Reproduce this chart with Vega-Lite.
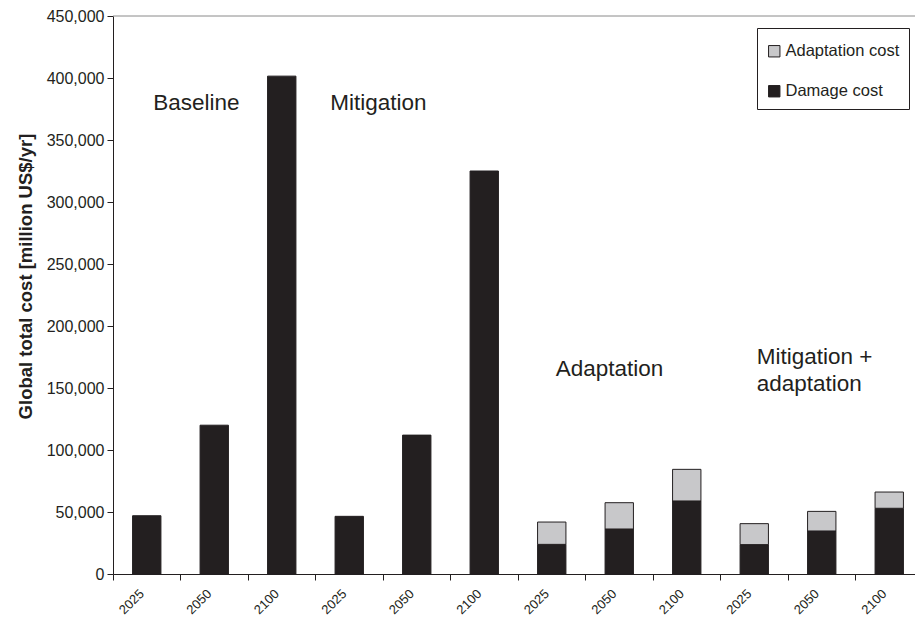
{
  "$schema": "https://vega.github.io/schema/vega-lite/v6.json",
  "width": 802,
  "height": 558,
  "autosize": {"type": "none"},
  "padding": {"left": 113, "top": 16, "right": 0, "bottom": 47},
  "background": "white",
  "config": {"view": {"stroke": null}, "font": "Liberation Sans"},
  "datasets": {
    "bars": [
      {"cat": "Baseline|2025", "cost": "Damage cost", "ord": 1, "value": 47000},
      {"cat": "Baseline|2050", "cost": "Damage cost", "ord": 1, "value": 120000},
      {"cat": "Baseline|2100", "cost": "Damage cost", "ord": 1, "value": 401500},
      {"cat": "Mitigation|2025", "cost": "Damage cost", "ord": 1, "value": 46500},
      {"cat": "Mitigation|2050", "cost": "Damage cost", "ord": 1, "value": 112000},
      {"cat": "Mitigation|2100", "cost": "Damage cost", "ord": 1, "value": 325000},
      {"cat": "Adaptation|2025", "cost": "Damage cost", "ord": 1, "value": 23900},
      {"cat": "Adaptation|2025", "cost": "Adaptation cost", "ord": 2, "value": 18000},
      {"cat": "Adaptation|2050", "cost": "Damage cost", "ord": 1, "value": 36300},
      {"cat": "Adaptation|2050", "cost": "Adaptation cost", "ord": 2, "value": 21200},
      {"cat": "Adaptation|2100", "cost": "Damage cost", "ord": 1, "value": 58900},
      {"cat": "Adaptation|2100", "cost": "Adaptation cost", "ord": 2, "value": 25500},
      {"cat": "Mitigation + adaptation|2025", "cost": "Damage cost", "ord": 1, "value": 23700},
      {"cat": "Mitigation + adaptation|2025", "cost": "Adaptation cost", "ord": 2, "value": 16900},
      {"cat": "Mitigation + adaptation|2050", "cost": "Damage cost", "ord": 1, "value": 34700},
      {"cat": "Mitigation + adaptation|2050", "cost": "Adaptation cost", "ord": 2, "value": 15800},
      {"cat": "Mitigation + adaptation|2100", "cost": "Damage cost", "ord": 1, "value": 53000},
      {"cat": "Mitigation + adaptation|2100", "cost": "Adaptation cost", "ord": 2, "value": 13100}
    ]
  },
  "layer": [
    {
      "data": {"name": "bars"},
      "mark": {"type": "bar", "stroke": "#231f20", "strokeWidth": 1, "width": {"band": 0.42}},
      "encoding": {
        "x": {
          "field": "cat", "type": "nominal", "sort": null,
          "scale": {"range": [0, 810], "paddingInner": 0, "paddingOuter": 0},
          "axis": {
            "title": null, "bandPosition": 0, "labelOffset": -9, "labelAngle": -45,
            "labelAlign": "right", "labelBaseline": "top", "labelFontSize": 13,
            "labelColor": "#231f20", "labelPadding": 7, "tickSize": 6,
            "tickColor": "#231f20", "domainColor": "#231f20", "labelFlush": false,
            "labelOverlap": false, "labelBound": false,
            "labelExpr": "substring(datum.label, length(datum.label) - 4)"
          }
        },
        "y": {
          "field": "value", "type": "quantitative", "stack": "zero",
          "scale": {"domain": [0, 450000], "nice": false},
          "axis": {
            "title": "Global total cost [million US$/yr]",
            "values": [0, 50000, 100000, 150000, 200000, 250000, 300000, 350000, 400000, 450000],
            "format": ",d", "labelFontSize": 16, "labelColor": "#231f20",
            "tickSize": 6, "labelPadding": 3, "tickColor": "#231f20",
            "domainColor": "#231f20", "grid": false,
            "titleFontSize": 18.5, "titleFontWeight": "bold", "titleColor": "#231f20",
            "titleX": -82, "titleY": 260, "titleAngle": -90, "titleAlign": "center",
            "titleBaseline": "alphabetic"
          }
        },
        "color": {
          "field": "cost", "type": "nominal",
          "scale": {"domain": ["Adaptation cost", "Damage cost"], "range": ["#c8c8ca", "#231f20"]},
          "legend": {
            "orient": "none", "legendX": 644, "legendY": 12, "title": " ",
            "titleFontSize": 6, "titlePadding": 0,
            "direction": "vertical", "symbolType": "square", "symbolSize": 130,
            "symbolStrokeColor": "#231f20", "symbolStrokeWidth": 1,
            "labelFontSize": 16.5, "labelColor": "#231f20", "labelOffset": 3,
            "rowPadding": 23, "padding": 9, "strokeColor": "#231f20", "fillColor": "white"
          }
        },
        "order": {"field": "ord", "type": "quantitative"}
      }
    },
    {
      "data": {"values": [{"top": 450000}]},
      "mark": {"type": "rule", "color": "#8a8a8a", "strokeWidth": 1},
      "encoding": {"y": {"field": "top", "type": "quantitative"}}
    },
    {
      "data": {"values": [{"cat": "Baseline|2025", "value": 374200, "label": "Baseline"}]},
      "mark": {"type": "text", "align": "left", "baseline": "alphabetic", "dx": 6.5, "fontSize": 22.5, "color": "#231f20"},
      "encoding": {"x": {"field": "cat", "type": "nominal", "sort": null}, "y": {"field": "value", "type": "quantitative"}, "text": {"field": "label"}}
    },
    {
      "data": {"values": [{"cat": "Mitigation|2025", "value": 374200, "label": "Mitigation"}]},
      "mark": {"type": "text", "align": "left", "baseline": "alphabetic", "dx": -19, "fontSize": 22.5, "color": "#231f20"},
      "encoding": {"x": {"field": "cat", "type": "nominal", "sort": null}, "y": {"field": "value", "type": "quantitative"}, "text": {"field": "label"}}
    },
    {
      "data": {"values": [{"cat": "Adaptation|2025", "value": 159700, "label": "Adaptation"}]},
      "mark": {"type": "text", "align": "left", "baseline": "alphabetic", "dx": 4, "fontSize": 22.5, "color": "#231f20"},
      "encoding": {"x": {"field": "cat", "type": "nominal", "sort": null}, "y": {"field": "value", "type": "quantitative"}, "text": {"field": "label"}}
    },
    {
      "data": {"values": [
        {"cat": "Mitigation + adaptation|2025", "value": 169100, "label": "Mitigation +"},
        {"cat": "Mitigation + adaptation|2025", "value": 147600, "label": "adaptation"}
      ]},
      "mark": {"type": "text", "align": "left", "baseline": "alphabetic", "dx": 2.5, "fontSize": 22.5, "color": "#231f20"},
      "encoding": {"x": {"field": "cat", "type": "nominal", "sort": null}, "y": {"field": "value", "type": "quantitative"}, "text": {"field": "label"}}
    }
  ]
}
